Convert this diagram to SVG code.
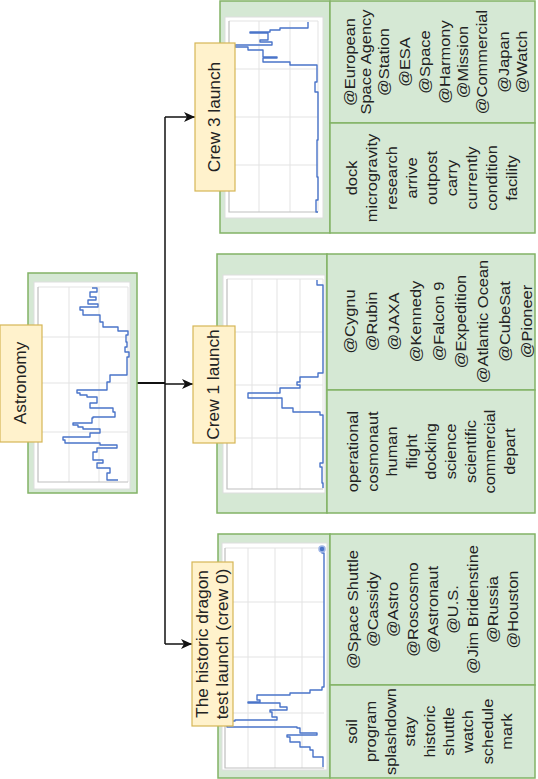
<svg xmlns="http://www.w3.org/2000/svg" width="538" height="779" viewBox="0 0 538 779">
<style>
.box{fill:#d5e8d4;stroke:#82b366;stroke-width:1.5}
.lbl{fill:#fff2cc;stroke:#d6b656;stroke-width:1.2}
.plot{fill:#ffffff;stroke:#dddddd;stroke-width:1}
.grid{stroke:#e3e3e3;stroke-width:1;fill:none}
.axis{stroke:#bfbfbf;stroke-width:1.2;fill:none}
.data{stroke:#4a74c9;stroke-width:1.4;fill:none;stroke-linejoin:round}
.t{font-family:"Liberation Sans",Arial,sans-serif;font-size:15.5px;fill:#222;text-anchor:middle}
.conn{stroke:#111;stroke-width:1.5;fill:none}
</style>
<defs>
<marker id="arr" markerUnits="userSpaceOnUse" markerWidth="12" markerHeight="10" refX="11" refY="5" orient="auto">
<path d="M0,0 L11,5 L0,10 L3,5 z" fill="#111"/>
</marker>
</defs>

<g id="connectors">
<path class="conn" d="M137,383 H165" style="stroke-width:2"/>
<path class="conn" d="M165,117 V644"/>
<path class="conn" d="M165,117 H195" marker-end="url(#arr)"/>
<path class="conn" d="M165,384 H193" marker-end="url(#arr)"/>
<path class="conn" d="M165,644 H192" marker-end="url(#arr)"/>
</g>

<g id="astronomy">
<rect class="box" x="28" y="273" width="109" height="220"/>
<rect class="plot" x="34" y="282" width="96" height="207"/>
<path class="grid" d="M69,287V482M99,287V482M128,287V482M38,337H128M38,383H128M38,432H128M38,287H128"/>
<path class="axis" d="M38,287V482H128"/>
<path class="data" d="M92,288 H97 V292 H90 V297 H96 V300 H88 V304 H98 V307 H80 V310 H83 V315 H100 V322 H103 V327 H118 V331 H128 V335 H126 V342 H127 V347 H125 V352 H129 V357 H127 V375 H110 V382 H107 V390 H77 V393 H80 V395 H87 V397 H97 V403 H90 V408 H113 V412 H115 V417 H93 V418 H92 V423 H73 V425 H78 V427 H83 V429 H100 V433 H90 V437 H63 V440 H65 V443 H100 V445 H117 V448 H97 V452 H93 V460 H103 V463 H97 V468 H110 V473 H107 V480 H118"/>
<rect class="lbl" x="0" y="325" width="42" height="117"/>
<g transform="translate(0,383) rotate(-90) scale(1.08,1)"><text class="t" x="0" y="26" style="font-size:16px">Astronomy</text></g>
</g>

<g id="crew3">
<rect class="box" x="220" y="1" width="110" height="232"/>
<rect class="plot" x="225" y="17" width="98" height="201"/>
<path class="grid" d="M259,21V212M290,21V212M318,21V212M229,69H318M229,117H318M229,165H318M229,21H318"/>
<path class="axis" d="M229,21V212H318"/>
<path class="data" d="M308,22 V28 H280 V30 H270 V32 H250 V33 H268 V40 H260 V42 H272 V45 H235 V47 H248 V50 H263 V57 H277 V58 H263 V62 H290 V65 H317 V82 H315 V92 H318 V140 H317 V177 H318 V200 H316 V212 H318"/>
<rect class="lbl" x="195" y="43" width="40" height="148"/>
<g transform="translate(0,117) rotate(-90) scale(1.08,1)"><text class="t" x="0" y="220" style="font-size:16px">Crew 3 launch</text></g>
<rect class="box" x="330" y="1" width="205" height="122"/>
<rect class="box" x="330" y="123" width="205" height="110"/>
<g transform="translate(0,62) rotate(-90) scale(1.06,1)">
<text class="t" x="0" y="355">@European</text>
<text class="t" x="0" y="371">Space Agency</text>
<text class="t" x="0" y="389">@Station</text>
<text class="t" x="0" y="410">@ESA</text>
<text class="t" x="0" y="430">@Space</text>
<text class="t" x="0" y="450">@Harmony</text>
<text class="t" x="0" y="468">@Mission</text>
<text class="t" x="0" y="487">@Commercial</text>
<text class="t" x="0" y="509">@Japan</text>
<text class="t" x="0" y="527">@Watch</text>
</g>
<g transform="translate(0,178) rotate(-90) scale(1.06,1)">
<text class="t" x="0" y="357">dock</text>
<text class="t" x="0" y="377">microgravity</text>
<text class="t" x="0" y="397">research</text>
<text class="t" x="0" y="417">arrive</text>
<text class="t" x="0" y="437">outpost</text>
<text class="t" x="0" y="457">carry</text>
<text class="t" x="0" y="477">currently</text>
<text class="t" x="0" y="497">condition</text>
<text class="t" x="0" y="517">facility</text>
</g>
</g>

<g id="crew1">
<rect class="box" x="217" y="254" width="110" height="259"/>
<rect class="plot" x="223" y="275" width="102" height="218"/>
<path class="grid" d="M252,279V489M277,279V489M300,279V489M323,279V489M227,332H323M227,385H323M227,438H323M227,279H323"/>
<path class="axis" d="M227,279V489H323"/>
<path class="data" d="M317,280 V285 H323 V373 H318 V377 H300 V382 H297 V385 H300 V388 H280 V393 H248 V398 H282 V408 H293 V412 H320 V415 H323 V463 H320 V467 H322 V483 H323 V488"/>
<rect class="lbl" x="193" y="326" width="42" height="117"/>
<g transform="translate(0,384.5) rotate(-90) scale(1.08,1)"><text class="t" x="0" y="219" style="font-size:16px">Crew 1 launch</text></g>
<rect class="box" x="327" y="254" width="208" height="136"/>
<rect class="box" x="327" y="390" width="208" height="123"/>
<g transform="translate(0,321.5) rotate(-90) scale(1.06,1)">
<text class="t" x="0" y="355">@Cygnu</text>
<text class="t" x="0" y="377">@Rubin</text>
<text class="t" x="0" y="399">@JAXA</text>
<text class="t" x="0" y="421">@Kennedy</text>
<text class="t" x="0" y="444">@Falcon 9</text>
<text class="t" x="0" y="466">@Expedition</text>
<text class="t" x="0" y="488">@Atlantic Ocean</text>
<text class="t" x="0" y="510">@CubeSat</text>
<text class="t" x="0" y="532">@Pioneer</text>
</g>
<g transform="translate(0,451.5) rotate(-90) scale(1.06,1)">
<text class="t" x="0" y="358">operational</text>
<text class="t" x="0" y="377.6">cosmonaut</text>
<text class="t" x="0" y="397.2">human</text>
<text class="t" x="0" y="416.8">flight</text>
<text class="t" x="0" y="436.4">docking</text>
<text class="t" x="0" y="456">science</text>
<text class="t" x="0" y="475.6">scientific</text>
<text class="t" x="0" y="495.2">commercial</text>
<text class="t" x="0" y="514.8">depart</text>
</g>
</g>

<g id="historic">
<rect class="box" x="218" y="534" width="112" height="244"/>
<rect class="plot" x="222" y="543" width="105" height="227"/>
<path class="grid" d="M248,548V768M275,548V768M302,548V768M225,602H324M225,657H324M225,713H324M225,548H324"/>
<path class="axis" d="M225,548V768H324"/>
<path class="data" d="M322,549 V553 H324 V687 H322 V690 H310 V693 H290 V695 H257 V700 H260 V702 H248 V703 H280 V707 H287 V710 H270 V712 H272 V717 H277 V720 H235 V721 H227 V727 H297 V728 H300 V733 H317 V735 H287 V737 H290 V742 H300 V747 H310 V750 H313 V757 H323 V767"/>
<circle cx="322" cy="549" r="3" fill="#4a74c9" stroke="#9fb6e6" stroke-width="1.5"/>
<rect class="lbl" x="192" y="562" width="41" height="164"/>
<g transform="translate(0,644) rotate(-90) scale(1.08,1)">
<text class="t" x="0" y="208" style="font-size:16px">The historic dragon</text>
<text class="t" x="0" y="228" style="font-size:16px">test launch (crew 0)</text>
</g>
<rect class="box" x="330" y="534" width="205" height="151"/>
<rect class="box" x="330" y="685" width="205" height="93"/>
<g transform="translate(0,609.5) rotate(-90) scale(1.06,1)">
<text class="t" x="0" y="358">@Space Shuttle</text>
<text class="t" x="0" y="378">@Cassidy</text>
<text class="t" x="0" y="398">@Astro</text>
<text class="t" x="0" y="418">@Roscosmo</text>
<text class="t" x="0" y="438">@Astronaut</text>
<text class="t" x="0" y="458">@U.S.</text>
<text class="t" x="0" y="478">@Jim Bridenstine</text>
<text class="t" x="0" y="498">@Russia</text>
<text class="t" x="0" y="518">@Houston</text>
</g>
<g transform="translate(0,731.5) rotate(-90) scale(1.06,1)">
<text class="t" x="0" y="357">soil</text>
<text class="t" x="0" y="376.4">program</text>
<text class="t" x="0" y="395.8">splashdown</text>
<text class="t" x="0" y="415.2">stay</text>
<text class="t" x="0" y="434.6">historic</text>
<text class="t" x="0" y="454">shuttle</text>
<text class="t" x="0" y="473.4">watch</text>
<text class="t" x="0" y="492.8">schedule</text>
<text class="t" x="0" y="512.2">mark</text>
</g>
</g>
</svg>
